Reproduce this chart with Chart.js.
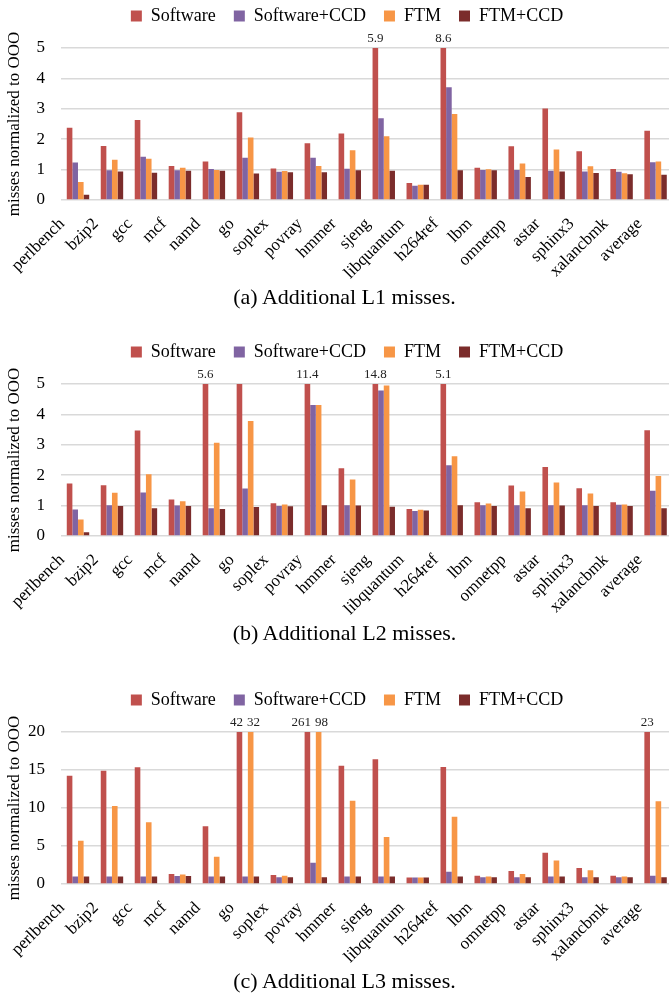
<!DOCTYPE html>
<html>
<head>
<meta charset="utf-8">
<script src="https://cdn.jsdelivr.net/npm/chart.js@4.4.1/dist/chart.umd.min.js"></script>
<style>
    html, body { margin: 0; padding: 0; background: #fff; overflow: hidden; width: 669px; height: 1000px; }
    .block { position: absolute; left: 0; width: 676px; height: 285px; }
    .caption { position: absolute; left: 10px; width: 669px; height: 24px; line-height: 24px;
               text-align: center; font-size: 22px; color: #000;
               font-family: "Liberation Serif", "Times New Roman", Times, "DejaVu Serif", serif; }
</style>
</head>
<body>
<div class="block" style="top:0"><canvas id="l1"></canvas></div>
<div class="caption" style="top:285px">(a) Additional L1 misses.</div>
<div class="block" style="top:336px"><canvas id="l2"></canvas></div>
<div class="caption" style="top:621px">(b) Additional L2 misses.</div>
<div class="block" style="top:684px"><canvas id="l3"></canvas></div>
<div class="caption" style="top:969px">(c) Additional L3 misses.</div>

<script>
// Benchmarks on the x axis
const benchmarks = ['perlbench', 'bzip2', 'gcc', 'mcf', 'namd', 'go', 'soplex', 'povray', 'hmmer',
    'sjeng', 'libquantum', 'h264ref', 'lbm', 'omnetpp', 'astar', 'sphinx3', 'xalancbmk', 'average'];

const seriesNames = ['Software', 'Software+CCD', 'FTM', 'FTM+CCD'];

// L1 misses, normalized to OOO
const l1Software = [2.38, 1.78, 2.63, 1.12, 1.27, 2.89, 1.04, 1.87, 2.19, 5.9, 0.56, 8.6, 1.06, 1.77, 3.01, 1.60, 1.02, 2.28];
const l1SoftwareCcd = [1.23, 0.98, 1.42, 0.98, 1.02, 1.39, 0.93, 1.39, 1.03, 2.69, 0.47, 3.71, 0.99, 0.99, 0.96, 0.94, 0.93, 1.24];
const l1Ftm = [0.59, 1.32, 1.36, 1.06, 0.99, 2.06, 0.95, 1.12, 1.64, 2.10, 0.50, 2.83, 1.01, 1.20, 1.66, 1.11, 0.88, 1.27];
const l1FtmCcd = [0.17, 0.94, 0.90, 0.96, 0.96, 0.87, 0.91, 0.91, 0.98, 0.96, 0.50, 0.98, 0.98, 0.76, 0.94, 0.89, 0.85, 0.83];

// L2 misses
const l2Software = [1.73, 1.67, 3.47, 1.20, 5.6, 5.0, 1.08, 11.4, 2.23, 14.8, 0.89, 5.1, 1.11, 1.66, 2.27, 1.57, 1.11, 3.48];
const l2SoftwareCcd = [0.87, 1.01, 1.43, 1.00, 0.91, 1.56, 0.99, 4.31, 1.01, 4.79, 0.82, 2.33, 1.01, 1.01, 1.01, 1.01, 1.03, 1.49];
const l2Ftm = [0.54, 1.42, 2.03, 1.14, 3.07, 3.78, 1.04, 4.31, 1.86, 4.95, 0.86, 2.62, 1.07, 1.46, 1.76, 1.40, 1.04, 1.97];
const l2FtmCcd = [0.12, 0.99, 0.91, 0.99, 0.89, 0.95, 0.98, 1.01, 1.00, 0.96, 0.84, 1.01, 0.99, 0.91, 1.00, 0.99, 0.99, 0.91];

// L3 misses
const l3Software = [14.25, 14.9, 15.35, 1.3, 7.6, 42, 1.2, 261, 15.57, 16.4, 0.85, 15.4, 1.1, 1.7, 4.1, 2.1, 1.1, 23];
const l3SoftwareCcd = [1.0, 1.0, 1.0, 1.05, 1.0, 1.0, 0.9, 2.8, 1.0, 1.0, 0.85, 1.6, 0.9, 0.9, 1.0, 0.9, 0.9, 1.1];
const l3Ftm = [5.7, 10.26, 8.11, 1.25, 3.6, 32, 1.1, 98, 10.96, 6.18, 0.85, 8.86, 1.0, 1.3, 3.1, 1.8, 1.0, 10.88];
const l3FtmCcd = [1.0, 1.0, 1.0, 1.05, 1.0, 1.0, 0.9, 0.9, 1.0, 1.0, 0.85, 1.0, 0.9, 0.9, 1.0, 0.9, 0.9, 0.9];

const colors = ['#C0504D', '#8064A2', '#F79646', '#7B2C2B'];
const serif = '"Liberation Serif", "Times New Roman", Times, "DejaVu Serif", serif';

/**
 * Fix legend height and nudge it so it sits like the original figure
 */
const legendPlacement = {
    id: 'legendPlacement',
    beforeUpdate(chart) {
        const lg = chart.legend;
        if (lg && !lg._patched) {
            const fit = lg.fit;
            lg.fit = function () {
                fit.call(this);
                this.height = 48;
            };
            lg._patched = true;
        }
    },
    afterLayout(chart) {
        const lg = chart.legend;
        if (!lg) return;
        lg.left += 9; lg.right += 9;
        lg.top -= 11; lg.bottom -= 11;
    }
};

/**
 * Print the real value above bars that run off the top of the axis
 */
const overflowLabels = {
    id: 'overflowLabels',
    afterDatasetsDraw(chart, args, opts) {
        const { ctx, chartArea } = chart;
        const yMax = chart.scales.y.max;
        ctx.save();
        ctx.font = '13px ' + serif;
        ctx.fillStyle = '#222';
        ctx.textBaseline = 'bottom';

        // collect the labels per category so neighbours can be pushed apart
        const byCategory = {};
        chart.data.datasets.forEach((ds, di) => {
            const meta = chart.getDatasetMeta(di);
            ds.data.forEach((v, i) => {
                if (v > yMax) {
                    (byCategory[i] = byCategory[i] || []).push({ text: v.toFixed(opts.decimals), x: meta.data[i].x });
                }
            });
        });

        Object.values(byCategory).forEach(items => {
            if (items.length === 1) {
                ctx.textAlign = 'center';
                ctx.fillText(items[0].text, items[0].x, chartArea.top - 3);
            } else {
                const mid = (items[0].x + items[items.length - 1].x) / 2;
                ctx.textAlign = 'right';
                ctx.fillText(items[0].text, mid - 2, chartArea.top - 3);
                ctx.textAlign = 'left';
                ctx.fillText(items[1].text, mid + 2, chartArea.top - 3);
            }
        });
        ctx.restore();
    }
};

function makeChart(id, series, yMax, yStep, decimals) {
    new Chart(document.getElementById(id), {
        type: 'bar',
        data: {
            labels: benchmarks,
            datasets: series.map((data, i) => ({
                label: seriesNames[i],
                data: data,
                backgroundColor: colors[i],
                borderWidth: 0,
                clip: 0
            }))
        },
        options: {
            responsive: true,
            maintainAspectRatio: false,
            animation: false,
            datasets: { bar: { categoryPercentage: 0.66, barPercentage: 1.0 } },
            layout: { padding: 0 },
            plugins: {
                tooltip: { enabled: false },
                overflowLabels: { decimals: decimals },
                legend: {
                    position: 'top',
                    labels: {
                        color: '#000',
                        font: { family: serif, size: 18 },
                        boxWidth: 11,
                        boxHeight: 11,
                        padding: 18
                    }
                }
            },
            scales: {
                x: {
                    grid: { display: false },
                    border: { display: false },
                    ticks: {
                        color: '#000',
                        font: { family: serif, size: 17 },
                        minRotation: 45,
                        maxRotation: 45,
                        autoSkip: false,
                        padding: 6,
                        labelOffset: -16
                    },
                    afterFit(scale) { scale.height = 85; }
                },
                y: {
                    min: 0,
                    max: yMax,
                    grid: { color: '#D9D9D9', lineWidth: 1.5, drawTicks: false },
                    border: { display: false },
                    ticks: {
                        stepSize: yStep,
                        color: '#000',
                        font: { family: serif, size: 17 },
                        padding: 16
                    },
                    title: {
                        display: true,
                        text: 'misses normalized to OOO',
                        color: '#000',
                        font: { family: serif, size: 17 },
                        padding: 4
                    },
                    afterFit(scale) { scale.width = 61; }
                }
            }
        },
        plugins: [legendPlacement, overflowLabels]
    });
}

makeChart('l1', [l1Software, l1SoftwareCcd, l1Ftm, l1FtmCcd], 5, 1, 1);
makeChart('l2', [l2Software, l2SoftwareCcd, l2Ftm, l2FtmCcd], 5, 1, 1);
makeChart('l3', [l3Software, l3SoftwareCcd, l3Ftm, l3FtmCcd], 20, 5, 0);
</script>
</body>
</html>
